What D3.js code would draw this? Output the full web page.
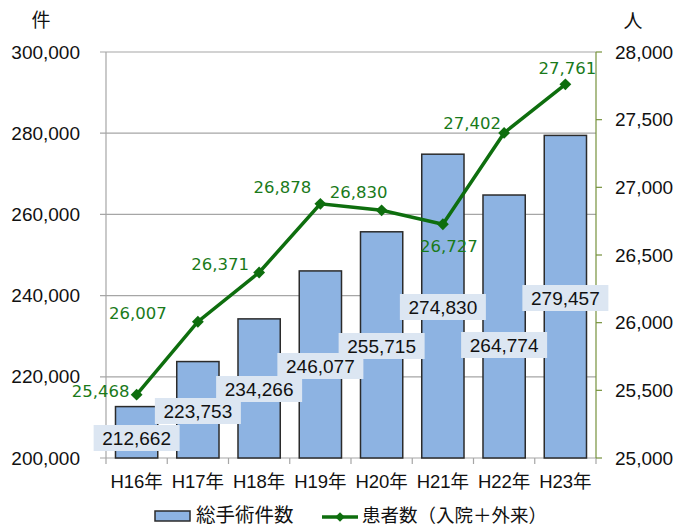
<!DOCTYPE html>
<html>
<head>
<meta charset="utf-8">
<script src="https://cdn.jsdelivr.net/npm/d3@7"></script>
<style>
body { margin: 0; background: #fff; }
text { font-family: "Liberation Sans", Arial, "Noto Sans CJK JP", sans-serif; }
text.green { font-family: "DejaVu Sans", sans-serif; }
</style>
</head>
<body>
<div id="chart"></div>
<script>
var width = 675;
var height = 525;

// data
var years = ["H16年", "H17年", "H18年", "H19年", "H20年", "H21年", "H22年", "H23年"];
var surgeries = [212662, 223753, 234266, 246077, 255715, 274830, 264774, 279457];
var patients = [25468, 26007, 26371, 26878, 26830, 26727, 27402, 27761];
var leftTicks = [200000, 220000, 240000, 260000, 280000, 300000];
var rightTicks = [25000, 25500, 26000, 26500, 27000, 27500, 28000];

// label placement (px)
var barLabelY = [438, 411, 389, 366, 346, 307, 345, 298];
var lineLabelDx = [-36, -60, -39, -38, -23, 6, -32, 2];
var lineLabelDy = [-4, -9, -8, -17, -18, 22, -10, -16];

var margin = {top: 52, right: 79, bottom: 67, left: 106};
var w = width - margin.left - margin.right;
var h = height - margin.top - margin.bottom;

var svg = d3.select("#chart").append("svg")
    .attr("width", width)
    .attr("height", height);

var g = svg.append("g")
    .attr("transform", "translate(" + margin.left + "," + margin.top + ")");

var x = d3.scaleBand().domain(years).range([0, w]).paddingInner(0.31).paddingOuter(0.155);
var xb = d3.scaleBand().domain(years).range([0, w]);
var yL = d3.scaleLinear().domain([200000, 300000]).range([h, 0]);
var yR = d3.scaleLinear().domain([25000, 28000]).range([h, 0]);

// gridlines
g.selectAll(".grid")
    .data(leftTicks)
    .enter().append("line")
    .attr("x1", -6)
    .attr("x2", w)
    .attr("y1", function (d) { return yL(d); })
    .attr("y2", function (d) { return yL(d); })
    .attr("stroke", "#a6a6a6")
    .attr("stroke-width", 1.2);

// left axis
g.append("line")
    .attr("x1", 0).attr("x2", 0).attr("y1", 0).attr("y2", h)
    .attr("stroke", "#a6a6a6").attr("stroke-width", 1.2);

g.selectAll(".ltick")
    .data(leftTicks)
    .enter().append("text")
    .attr("x", -26)
    .attr("y", function (d) { return yL(d); })
    .attr("dy", "0.35em")
    .attr("text-anchor", "end")
    .attr("font-size", 19)
    .attr("fill", "#111")
    .text(function (d) { return d3.format(",")(d); });

// bottom ticks at category boundaries
g.selectAll(".xtick")
    .data(d3.range(years.length + 1))
    .enter().append("line")
    .attr("x1", function (i) { return i * xb.bandwidth(); })
    .attr("x2", function (i) { return i * xb.bandwidth(); })
    .attr("y1", h)
    .attr("y2", h + 6)
    .attr("stroke", "#a6a6a6")
    .attr("stroke-width", 1.2);

g.selectAll(".xlabel")
    .data(years)
    .enter().append("text")
    .attr("x", function (d) { return xb(d) + xb.bandwidth() / 2; })
    .attr("y", h + 24)
    .attr("dy", "0.35em")
    .attr("text-anchor", "middle")
    .attr("font-size", 18.5)
    .attr("fill", "#111")
    .text(function (d) { return d; });

// bars
g.selectAll(".bar")
    .data(surgeries)
    .enter().append("rect")
    .attr("x", function (d, i) { return x(years[i]); })
    .attr("y", function (d) { return yL(d); })
    .attr("width", x.bandwidth())
    .attr("height", function (d) { return h - yL(d); })
    .attr("fill", "#8db3e2")
    .attr("stroke", "#2b2b2b")
    .attr("stroke-width", 1.5);

// right axis
g.append("line")
    .attr("x1", w).attr("x2", w).attr("y1", 0).attr("y2", h)
    .attr("stroke", "#76923c").attr("stroke-width", 1.2);

g.selectAll(".rtickmark")
    .data(rightTicks)
    .enter().append("line")
    .attr("x1", w).attr("x2", w + 6)
    .attr("y1", function (d) { return yR(d); })
    .attr("y2", function (d) { return yR(d); })
    .attr("stroke", "#76923c").attr("stroke-width", 1.2);

g.selectAll(".rtick")
    .data(rightTicks)
    .enter().append("text")
    .attr("x", w + 19)
    .attr("y", function (d) { return yR(d); })
    .attr("dy", "0.35em")
    .attr("font-size", 19)
    .attr("fill", "#111")
    .text(function (d) { return d3.format(",")(d); });

// bar labels
var bl = g.selectAll(".blabel")
    .data(surgeries)
    .enter().append("g")
    .attr("transform", function (d, i) {
        return "translate(" + (xb(years[i]) + xb.bandwidth() / 2) + "," + (barLabelY[i] - margin.top) + ")";
    });

bl.append("rect")
    .attr("x", -43).attr("y", -13)
    .attr("width", 86).attr("height", 26)
    .attr("fill", "#dce6f2");

bl.append("text")
    .attr("text-anchor", "middle")
    .attr("dy", "0.36em")
    .attr("font-size", 19)
    .attr("fill", "#111")
    .text(function (d) { return d3.format(",")(d); });

// line
var cx = function (i) { return xb(years[i]) + xb.bandwidth() / 2; };

var line = d3.line()
    .x(function (d, i) { return cx(i); })
    .y(function (d) { return yR(d); });

g.append("path")
    .datum(patients)
    .attr("d", line)
    .attr("fill", "none")
    .attr("stroke", "#0e6e0e")
    .attr("stroke-width", 3.5);

g.selectAll(".marker")
    .data(patients)
    .enter().append("path")
    .attr("d", d3.symbol().type(d3.symbolSquare).size(70))
    .attr("transform", function (d, i) { return "translate(" + cx(i) + "," + yR(d) + ") rotate(45)"; })
    .attr("fill", "#0e6e0e");

g.selectAll(".llabel")
    .data(patients)
    .enter().append("text")
    .attr("class", "green")
    .attr("x", function (d, i) { return cx(i) + lineLabelDx[i]; })
    .attr("y", function (d, i) { return yR(d) + lineLabelDy[i]; })
    .attr("text-anchor", "middle")
    .attr("dy", "0.36em")
    .attr("font-size", 16.5)
    .attr("fill", "#1a7a1a")
    .text(function (d) { return d3.format(",")(d); });

// axis unit labels
svg.append("text")
    .attr("x", 41).attr("y", 20).attr("dy", "0.35em")
    .attr("text-anchor", "middle").attr("font-size", 19).attr("fill", "#111")
    .text("件");

svg.append("text")
    .attr("x", 633).attr("y", 21).attr("dy", "0.35em")
    .attr("text-anchor", "middle").attr("font-size", 19).attr("fill", "#111")
    .text("人");

// legend
var legend = svg.append("g").attr("transform", "translate(0,515)");

legend.append("rect")
    .attr("x", 155).attr("y", -4).attr("width", 35).attr("height", 10)
    .attr("fill", "#8db3e2").attr("stroke", "#2b2b2b").attr("stroke-width", 1.5);

legend.append("text")
    .attr("x", 196).attr("dy", "0.36em").attr("font-size", 19.5).attr("fill", "#111")
    .text("総手術件数");

legend.append("line")
    .attr("x1", 322).attr("x2", 358).attr("y1", 2).attr("y2", 2)
    .attr("stroke", "#0e6e0e").attr("stroke-width", 3.5);

legend.append("path")
    .attr("d", d3.symbol().type(d3.symbolSquare).size(45))
    .attr("transform", "translate(340,2) rotate(45)")
    .attr("fill", "#0e6e0e");

legend.append("text")
    .attr("x", 362).attr("dy", "0.36em").attr("font-size", 18.5).attr("fill", "#111")
    .text("患者数（入院＋外来）");
</script>
</body>
</html>
